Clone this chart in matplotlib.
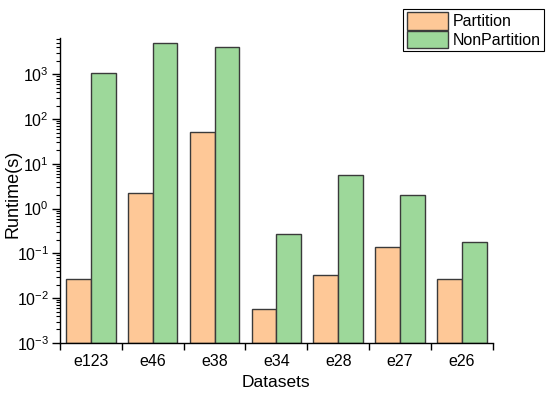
import numpy as np
import matplotlib
matplotlib.use('Agg')
from matplotlib import pyplot as plt
from matplotlib.ticker import LogLocator, FixedLocator, NullFormatter

# data
datasets = ['e123', 'e46', 'e38', 'e34', 'e28', 'e27', 'e26']
partition = [0.026, 2.2, 52, 0.0048, 0.032, 0.135, 0.0255]
non_partition = [1050, 5000, 4120, 0.27, 5.7, 1.98, 0.178]

plt.rcParams['font.family'] = ['Liberation Sans', 'DejaVu Sans']
plt.rcParams['mathtext.fontset'] = 'custom'
plt.rcParams['mathtext.rm'] = 'Liberation Sans'

fig = plt.figure(figsize=(5.5, 3.95), dpi=100)
ax = fig.add_axes([0.109, 0.132, 0.787, 0.772])

x = np.arange(len(datasets))
w = 0.4
edge = '#3a3a3a'
ax.bar(x - w / 2, partition, w, color='#FEC897', edgecolor=edge, linewidth=1.0,
       label='Partition', bottom=1e-3)
ax.bar(x + w / 2, non_partition, w, color='#9DD89A', edgecolor=edge, linewidth=1.0,
       label='NonPartition', bottom=1e-3)

ax.set_yscale('log')
ax.set_ylim(1e-3, 6500)
ax.set_xlim(-0.5, len(datasets) - 0.5)

ax.yaxis.set_major_locator(LogLocator(base=10, numticks=10))
ax.yaxis.set_minor_locator(LogLocator(base=10, subs=np.arange(2, 10), numticks=20))
ax.yaxis.set_minor_formatter(NullFormatter())

ax.set_xticks(x)
ax.set_xticklabels(datasets)
ax.xaxis.set_minor_locator(FixedLocator(np.arange(-0.5, len(datasets), 1.0)))

ax.tick_params(axis='x', which='major', length=0, labelsize=11.5, pad=8)
ax.tick_params(axis='x', which='minor', length=5, width=1, direction='out')
ax.tick_params(axis='y', which='major', length=6, width=1, direction='out', labelsize=11.5, pad=2)
ax.tick_params(axis='y', which='minor', length=3, width=0.8, direction='out')

for s in ['top', 'right']:
    ax.spines[s].set_visible(False)
for s in ['left', 'bottom']:
    ax.spines[s].set_linewidth(1.0)

ax.set_xlabel('Datasets', fontsize=12.5)
ax.set_ylabel('Runtime(s)', fontsize=13)
ax.yaxis.set_label_coords(-0.088, 0.49)

leg = fig.legend(loc='upper right', bbox_to_anchor=(0.995, 0.985), fontsize=11.5,
                 frameon=True, fancybox=False, edgecolor='black', framealpha=1,
                 borderpad=0.2, handlelength=2.6, handleheight=1.3,
                 handletextpad=0.3, labelspacing=0.05, borderaxespad=0.2)
leg.get_frame().set_linewidth(0.8)

fig.savefig('out.png', dpi=100)
